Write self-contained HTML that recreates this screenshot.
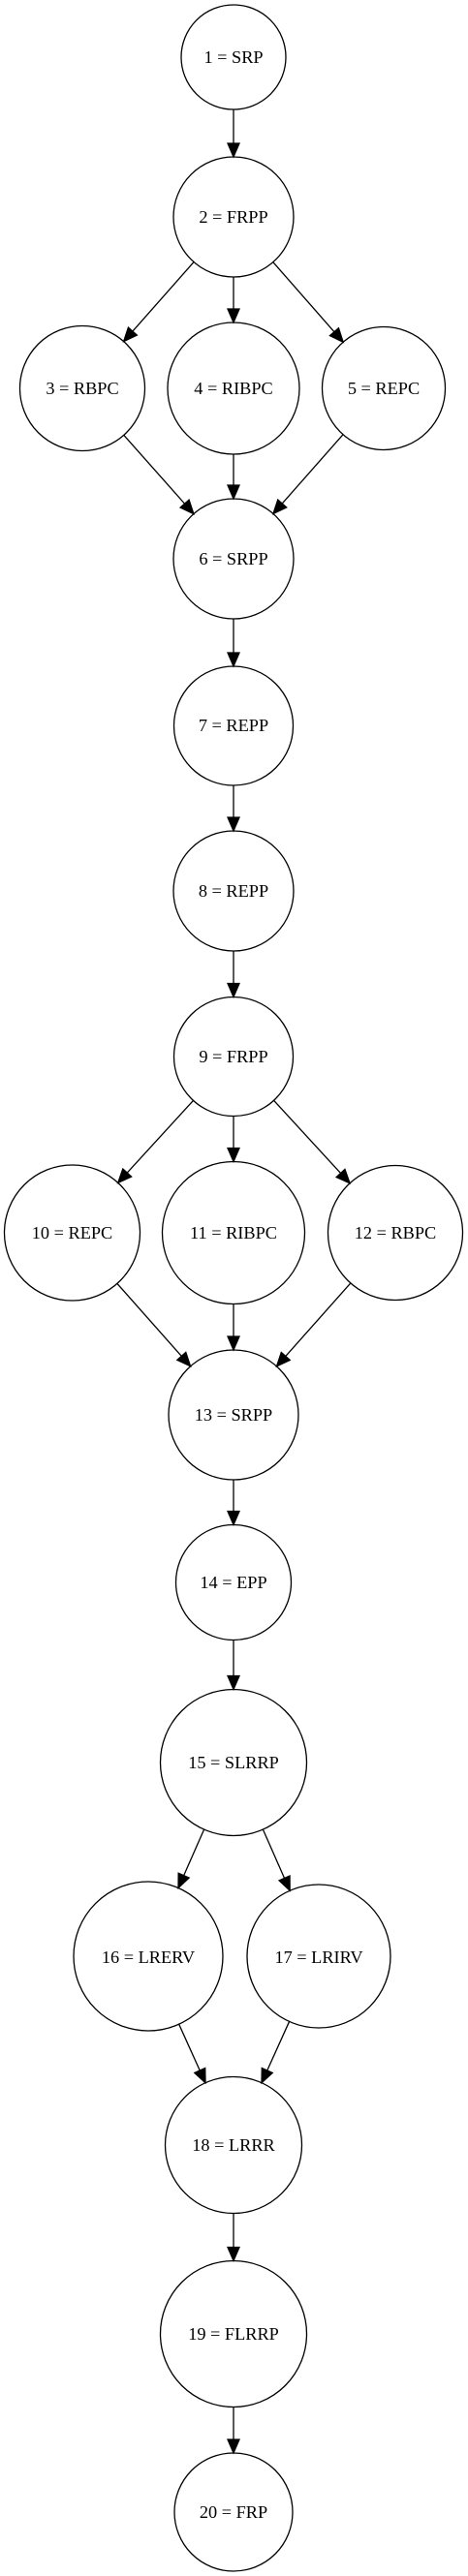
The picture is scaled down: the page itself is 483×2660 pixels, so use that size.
<!DOCTYPE html>
<html><head><meta charset="utf-8"><style>
html,body{margin:0;padding:0;background:#fff;}
svg{display:block;}
text{font-family:"Liberation Serif",serif;font-size:18.3px;fill:#000;}
</style></head><body>
<svg id="g" width="483" height="2660" viewBox="0 0 483 2660" xmlns="http://www.w3.org/2000/svg">
<g id="edges" stroke="#000" stroke-width="1.3" fill="#000"></g>
<g id="nodes" fill="none" stroke="#000" stroke-width="1.3"></g>
<g id="labels" text-anchor="middle">
<text x="241" y="65">1 = SRP</text>
<text x="241" y="230">2 = FRPP</text>
<text x="85" y="407">3 = RBPC</text>
<text x="241" y="407">4 = RIBPC</text>
<text x="396" y="407">5 = REPC</text>
<text x="241" y="583">6 = SRPP</text>
<text x="241" y="755">7 = REPP</text>
<text x="241" y="926">8 = REPP</text>
<text x="241" y="1097">9 = FRPP</text>
<text x="74.5" y="1279">10 = REPC</text>
<text x="241" y="1279">11 = RIBPC</text>
<text x="408" y="1279">12 = RBPC</text>
<text x="241" y="1467">13 = SRPP</text>
<text x="241" y="1640">14 = EPP</text>
<text x="241" y="1826">15 = SLRRP</text>
<text x="153" y="2027">16 = LRERV</text>
<text x="329" y="2027">17 = LRIRV</text>
<text x="241" y="2221">18 = LRRR</text>
<text x="241" y="2416">19 = FLRRP</text>
<text x="241" y="2600">20 = FRP</text>
</g>
</svg>
<script>
var N={1:[241,59,54],2:[241,224,62],3:[85,401,64.5],4:[241,401,68],5:[396,401,63.5],6:[241,577,62],
7:[241,749.5,61.5],8:[241,920,62],9:[241,1091,61.5],10:[74.5,1273,70],11:[241,1273,73.5],12:[408,1273,69.5],
13:[241,1461,67],14:[241,1634,59.5],15:[241,1820,75.5],16:[153,2020,77],17:[329,2020,74],18:[241,2215,70.5],
19:[241,2410,75.5],20:[241,2594,61]};
var E=[[1,2],[2,3],[2,4],[2,5],[3,6],[4,6],[5,6],[6,7],[7,8],[8,9],[9,10],[9,11],[9,12],[10,13],[11,13],[12,13],[13,14],[14,15],[15,16],[15,17],[16,18],[17,18],[18,19],[19,20]];
var ns="http://www.w3.org/2000/svg",ng=document.getElementById('nodes'),eg=document.getElementById('edges');
for(var k in N){var c=document.createElementNS(ns,'circle');c.setAttribute('cx',N[k][0]);c.setAttribute('cy',N[k][1]);c.setAttribute('r',N[k][2]);ng.appendChild(c);}
E.forEach(function(e){var a=N[e[0]],b=N[e[1]];var dx=b[0]-a[0],dy=b[1]-a[1],L=Math.hypot(dx,dy),ux=dx/L,uy=dy/L;
var sx=a[0]+ux*a[2],sy=a[1]+uy*a[2],tx=b[0]-ux*b[2],ty=b[1]-uy*b[2];var al=14,aw=6;
var bx=tx-ux*al,by=ty-uy*al;
var l=document.createElementNS(ns,'line');l.setAttribute('x1',sx);l.setAttribute('y1',sy);l.setAttribute('x2',bx);l.setAttribute('y2',by);eg.appendChild(l);
var p=document.createElementNS(ns,'polygon');p.setAttribute('points',tx+','+ty+' '+(bx-uy*aw)+','+(by+ux*aw)+' '+(bx+uy*aw)+','+(by-ux*aw));eg.appendChild(p);});
</script>
</body></html>
